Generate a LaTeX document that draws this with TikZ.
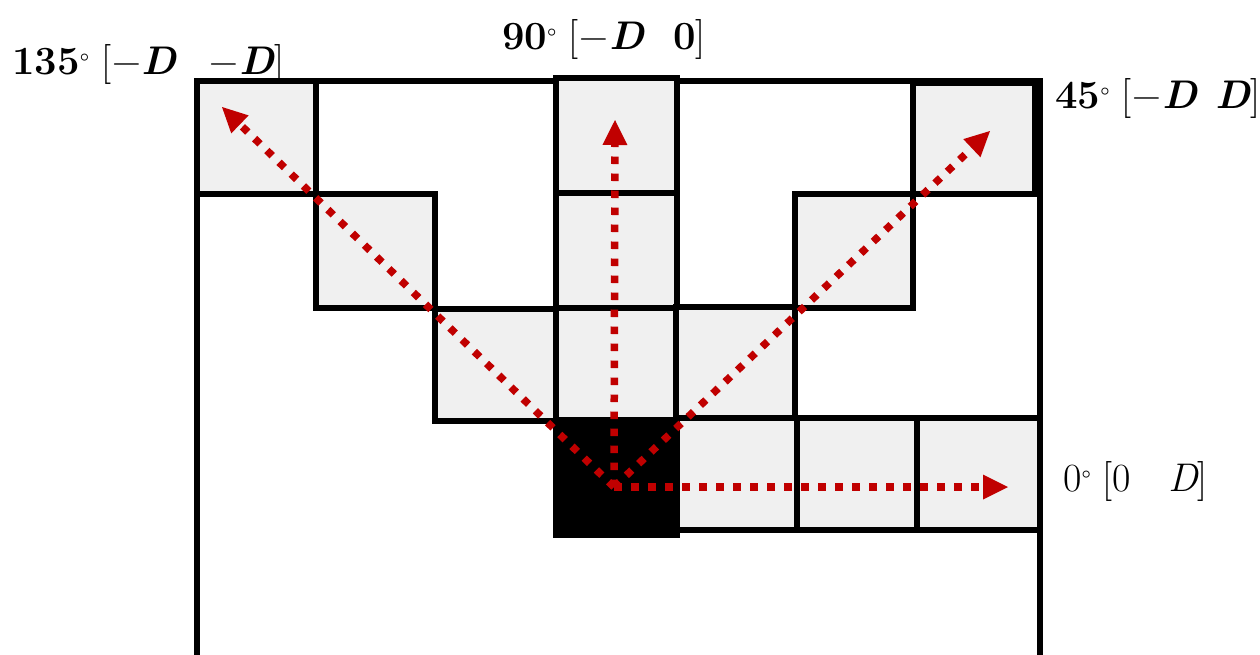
\documentclass[tikz,border=0pt]{standalone}
\usepackage{fontspec}
\usetikzlibrary{arrows.meta}
\definecolor{cellgray}{HTML}{F0F0F0}
\definecolor{arrowred}{HTML}{C00000}
\newcommand{\bD}{{\bfseries\itshape D}}
\newcommand{\mn}{\kern1pt−\kern1pt}
\newcommand{\dg}{\raisebox{2pt}{\fontsize{27}{27}\selectfont°}}
\tikzset{
  cellbox/.style={draw=black, line width=5.5pt, fill=cellgray},
  blackbox/.style={draw=black, line width=5.5pt, fill=black},
  outerbox/.style={draw=black, line width=5.5pt},
  dirarrow/.style={draw=arrowred, line width=7.5pt, dash pattern=on 7.5pt off 9.5pt,
    -{Triangle[length=25pt,width=25pt,line width=0pt]}},
  lbl/.style={inner sep=0pt, anchor=base west, font=\fontsize{40}{42}\selectfont}
}
\begin{document}
\begin{tikzpicture}[x=1pt,y=-1pt]
\clip (0,0) rectangle (1260,654);
\fill[white] (0,0) rectangle (1260,654);
% outer frame
\draw[outerbox] (197,81) rectangle (1040,700);
% gray cells
\draw[cellbox] (197,81) rectangle (316,194);
\draw[cellbox] (316,194) rectangle (435,308);
\draw[cellbox] (435,309) rectangle (556,421);
\draw[cellbox] (556,78) rectangle (677,193);
\draw[cellbox] (556,193) rectangle (677,308);
\draw[cellbox] (556,308) rectangle (677,420);
\draw[cellbox] (676,307) rectangle (795,418);
\draw[cellbox] (795,194) rectangle (913,308);
\draw[cellbox] (913,83) rectangle (1035,194);
\draw[cellbox] (677,418) rectangle (797,530);
\draw[cellbox] (797,418) rectangle (917,530);
\draw[cellbox] (917,418) rectangle (1040,530);
% black origin cell
\draw[blackbox] (556,420) rectangle (677,535);
% arrows
\coordinate (O) at (614,487);
\coordinate (t135) at (222,107);
\coordinate (t90) at (615,120);
\coordinate (t45) at (990,131);
\coordinate (t0) at (1008,487);
\draw[dirarrow] (O) -- (t135);
\draw[dirarrow] (O) -- (t90);
\draw[dirarrow] (O) -- (t45);
\draw[dirarrow] (O) -- (t0);
% labels
\node[lbl] (l135) at (12,74) {{\bfseries 135}\dg\ [\mn\bD\hspace{32pt}\mn\bD]};
\node[lbl] (l90) at (502,49) {{\bfseries 90}\dg\ [\mn\bD\hspace{29pt}{\bfseries 0}]};
\node[lbl] (l45) at (1055,108) {{\bfseries 45}\dg\ [\mn\bD\hspace{18pt}\bD]};
\node[lbl] (l0) at (1063,491) {0\dg\ [0\hspace{37pt}{\itshape D}]};
\end{tikzpicture}
\end{document}
